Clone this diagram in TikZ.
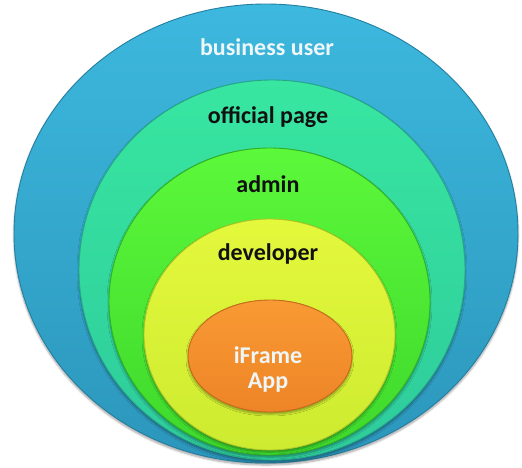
\documentclass[tikz,border=0pt]{standalone}
\usepackage{fontspec}
\setmainfont{Carlito}
\usetikzlibrary{shapes.geometric,shadows.blur}

\definecolor{ringBlueTop}{HTML}{3DB8DE}
\definecolor{ringBlueBot}{HTML}{2C96BB}
\definecolor{ringBlueEdge}{HTML}{237FA0}
\definecolor{ringTealTop}{HTML}{38E6A0}
\definecolor{ringTealBot}{HTML}{2ECB9C}
\definecolor{ringTealEdge}{HTML}{25A886}
\definecolor{ringGreenTop}{HTML}{5CF83A}
\definecolor{ringGreenBot}{HTML}{3ED82C}
\definecolor{ringGreenEdge}{HTML}{32B024}
\definecolor{ringYellowTop}{HTML}{E4F83C}
\definecolor{ringYellowBot}{HTML}{CDEB30}
\definecolor{ringYellowEdge}{HTML}{AEC628}
\definecolor{ringOrangeTop}{HTML}{F89A34}
\definecolor{ringOrangeBot}{HTML}{EE8426}
\definecolor{ringOrangeEdge}{HTML}{C86A1C}
\definecolor{labelLight}{HTML}{EEF6F8}
\definecolor{labelDark}{HTML}{111111}

\tikzset{
  ring/.style={ellipse, inner sep=0pt, outer sep=0pt, line width=0.9pt,
    blur shadow={shadow xshift=0pt, shadow yshift=-2pt, shadow blur steps=6,
      shadow blur extra rounding=2pt, shadow opacity=35}},
  ringlabel/.style={font=\bfseries\fontsize{24}{25}\selectfont, inner sep=0pt,
    align=center}
}

\begin{document}
\begin{tikzpicture}[x=1pt,y=-1pt]
  \useasboundingbox (0,0) rectangle (522,467);

  % nested rings, outermost first
  \node[ring, minimum width=504pt, minimum height=459pt,
        top color=ringBlueTop, bottom color=ringBlueBot, draw=ringBlueEdge]
        (business) at (266,233.5) {};
  \node[ring, minimum width=386pt, minimum height=380pt,
        top color=ringTealTop, bottom color=ringTealBot, draw=ringTealEdge]
        (official) at (272,270) {};
  \node[ring, minimum width=321pt, minimum height=307pt,
        top color=ringGreenTop, bottom color=ringGreenBot, draw=ringGreenEdge]
        (admin) at (269.5,301.5) {};
  \node[ring, minimum width=251pt, minimum height=231pt,
        top color=ringYellowTop, bottom color=ringYellowBot, draw=ringYellowEdge]
        (developer) at (269.5,334.5) {};
  \node[ring, minimum width=164pt, minimum height=112pt,
        top color=ringOrangeTop, bottom color=ringOrangeBot, draw=ringOrangeEdge]
        (iframe) at (270,356) {};

  % ring labels
  \node[ringlabel, text=labelLight] (lblBusiness) at (267,47) {business user};
  \node[ringlabel, text=labelDark] (lblOfficial) at (268,117) {official page};
  \node[ringlabel, text=labelDark] (lblAdmin) at (268,184) {admin};
  \node[ringlabel, text=labelDark] (lblDeveloper) at (268,254) {developer};
  \node[ringlabel, text=labelLight] (lblIframe) at (268,369) {iFrame\\App};
\end{tikzpicture}
\end{document}
